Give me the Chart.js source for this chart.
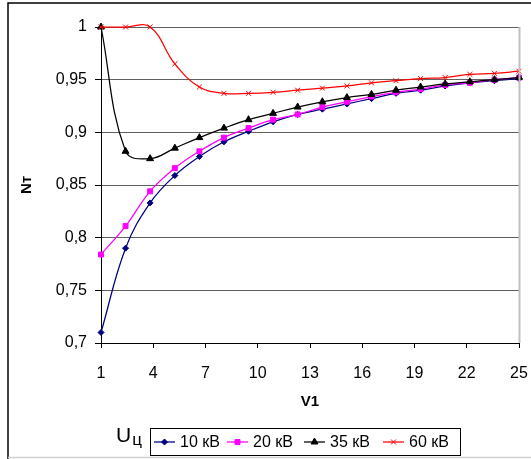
<!DOCTYPE html>
<html>
<head>
<meta charset="utf-8">
<script src="https://cdn.jsdelivr.net/npm/chart.js@4.4.1/dist/chart.umd.min.js"></script>
<style>
  html, body { margin: 0; padding: 0; background: #ffffff; }
  #wrap { width: 531px; height: 459px; position: relative; }
  canvas { display: block; }
</style>
</head>
<body>
<div id="wrap"><canvas id="c" width="531" height="459"></canvas></div>
<script>
// ---- data ----
const xValues = [1, 2.41, 3.82, 5.24, 6.65, 8.06, 9.47, 10.88, 12.29, 13.71, 15.12, 16.53, 17.94, 19.35, 20.76, 22.18, 23.59, 25];
const seriesNames = ["10 кВ", "20 кВ", "35 кВ", "60 кВ"];
const kv10 = [0.710, 0.790, 0.833, 0.859, 0.877, 0.891, 0.901, 0.910, 0.917, 0.922, 0.927, 0.932, 0.937, 0.940, 0.944, 0.947, 0.949, 0.951];
const kv20 = [0.784, 0.811, 0.844, 0.866, 0.882, 0.895, 0.904, 0.912, 0.917, 0.924, 0.929, 0.934, 0.938, 0.941, 0.945, 0.947, 0.950, 0.952];
const kv35 = [1.000, 0.882, 0.875, 0.885, 0.895, 0.904, 0.912, 0.918, 0.924, 0.929, 0.933, 0.936, 0.940, 0.943, 0.946, 0.948, 0.950, 0.952];
const kv60 = [1.000, 1.000, 1.000, 0.965, 0.943, 0.937, 0.937, 0.938, 0.940, 0.942, 0.944, 0.947, 0.949, 0.951, 0.952, 0.955, 0.956, 0.958];
const xTickValues = [1, 4, 7, 10, 13, 16, 19, 22, 25];
const yTickValues = [0.7, 0.75, 0.8, 0.85, 0.9, 0.95, 1];
const yTickLabels = ["0,7", "0,75", "0,8", "0,85", "0,9", "0,95", "1"];
const xTitle = "V1";
const yTitle = "Nт";
const legendTitleMain = "U";
const legendTitleSub = "ц";

// ---- styles ----
const seriesColors = ["#000080", "#FF00FF", "#000000", "#FF0000"];
const seriesPoints = ["rectRot", "rect", "triangle", "crossRot"];
const seriesRadius = [3, 3.5, 4, 3.5];
const allSeries = [kv10, kv20, kv35, kv60];

Chart.defaults.font.family = "'Liberation Sans', Arial, sans-serif";
Chart.defaults.color = "#000000";

const datasets = allSeries.map((vals, i) => ({
  label: seriesNames[i],
  data: vals.map((v, j) => ({ x: xValues[j], y: v })),
  borderColor: seriesColors[i],
  backgroundColor: seriesColors[i],
  pointBackgroundColor: seriesColors[i],
  pointBorderColor: seriesColors[i],
  pointStyle: seriesPoints[i],
  pointRadius: seriesRadius[i],
  pointBorderWidth: 1,
  borderWidth: 1.25,
  tension: 0.4,
  clip: false,
  order: allSeries.length - i
}));

function zeroPad(scale) {
  scale.paddingLeft = 0;
  scale.paddingRight = 0;
  scale.paddingTop = 0;
  scale.paddingBottom = 0;
}

const decorPlugin = {
  id: 'decor',
  beforeDraw(chart) {
    const ctx = chart.ctx;
    ctx.save();
    ctx.fillStyle = '#ffffff';
    ctx.fillRect(0, 0, chart.width, chart.height);
    ctx.restore();
  },
  afterDraw(chart) {
    const ctx = chart.ctx;
    const a = chart.chartArea;
    ctx.save();
    // plot area right border
    ctx.strokeStyle = '#c0c0c0';
    ctx.lineWidth = 2;
    ctx.beginPath();
    ctx.moveTo(a.right + 0.5, a.top);
    ctx.lineTo(a.right + 0.5, a.bottom);
    ctx.stroke();
    // outer chart border
    ctx.strokeStyle = '#000000';
    ctx.lineWidth = 1.5;
    ctx.beginPath();
    ctx.moveTo(8, chart.height);
    ctx.lineTo(8, 3);
    ctx.lineTo(chart.width, 3);
    ctx.stroke();
    ctx.strokeStyle = '#d0d0d0';
    ctx.beginPath();
    ctx.moveTo(8, 457.5);
    ctx.lineTo(chart.width, 457.5);
    ctx.stroke();

    // legend title "Uц"
    ctx.fillStyle = '#000000';
    ctx.textBaseline = 'alphabetic';
    ctx.textAlign = 'left';
    ctx.font = "21px 'Liberation Sans', Arial, sans-serif";
    ctx.fillText(legendTitleMain, 116, 442);
    const uw = ctx.measureText(legendTitleMain).width;
    ctx.font = "17px 'Liberation Sans', Arial, sans-serif";
    ctx.fillText(legendTitleSub, 116 + uw + 1, 445);

    // legend box
    const bx = 150, by = 428, bw = 310, bh = 27;
    ctx.fillStyle = '#ffffff';
    ctx.fillRect(bx, by, bw, bh);
    ctx.strokeStyle = '#000000';
    ctx.lineWidth = 1;
    ctx.strokeRect(bx + 0.5, by + 0.5, bw, bh);
    const itemX = [154, 227, 304, 383];
    const cy = by + bh / 2 + 0.5;
    ctx.font = "16px 'Liberation Sans', Arial, sans-serif";
    ctx.textBaseline = 'middle';
    for (let i = 0; i < seriesNames.length; i++) {
      const x0 = itemX[i];
      ctx.strokeStyle = seriesColors[i];
      ctx.lineWidth = 1.25;
      ctx.beginPath();
      ctx.moveTo(x0, cy);
      ctx.lineTo(x0 + 21, cy);
      ctx.stroke();
      ctx.fillStyle = seriesColors[i];
      ctx.strokeStyle = seriesColors[i];
      ctx.lineWidth = 1;
      Chart.helpers.drawPoint(ctx, { pointStyle: seriesPoints[i], radius: seriesRadius[i], rotation: 0, borderWidth: 1 }, x0 + 10.5, cy);
      ctx.fillStyle = '#000000';
      ctx.fillText(seriesNames[i], x0 + 26, cy + 1);
    }
    ctx.restore();
  }
};

new Chart(document.getElementById('c'), {
  type: 'line',
  data: { datasets },
  options: {
    responsive: false,
    animation: false,
    layout: { padding: { left: 0, right: 12, top: 27, bottom: 40 } },
    elements: { line: { capBezierPoints: false } },
    plugins: { legend: { display: false }, tooltip: { enabled: false } },
    scales: {
      x: {
        type: 'linear',
        min: 1,
        max: 25,
        afterFit(scale) { scale.height = 76; zeroPad(scale); },
        afterBuildTicks(scale) { scale.ticks = xTickValues.map(v => ({ value: v })); },
        ticks: {
          font: { size: 16 },
          padding: 16,
          maxRotation: 0,
          autoSkip: false,
          callback: (v) => String(v)
        },
        grid: { drawOnChartArea: false, drawTicks: true, tickLength: 5, tickColor: '#000000', color: '#000000' },
        border: { display: true, color: '#000000', width: 1 },
        title: { display: true, text: xTitle, font: { size: 15, weight: 'bold' }, padding: { top: 0, bottom: 8 } }
      },
      y: {
        type: 'linear',
        min: 0.7,
        max: 1,
        afterFit(scale) { scale.width = 101; zeroPad(scale); },
        afterBuildTicks(scale) { scale.ticks = yTickValues.map(v => ({ value: v })); },
        ticks: {
          font: { size: 16 },
          padding: 8,
          autoSkip: false,
          callback: (v) => { const k = yTickValues.findIndex(t => Math.abs(t - v) < 1e-9); return k >= 0 ? yTickLabels[k] : ''; }
        },
        grid: { drawOnChartArea: true, drawTicks: true, tickLength: 6, tickColor: '#000000', color: '#606060', lineWidth: 1 },
        border: { display: true, color: '#000000', width: 1 },
        title: { display: true, text: yTitle, font: { size: 15, weight: 'bold' }, padding: { top: 18, bottom: 0 } }
      }
    }
  },
  plugins: [decorPlugin]
});
</script>
</body>
</html>
